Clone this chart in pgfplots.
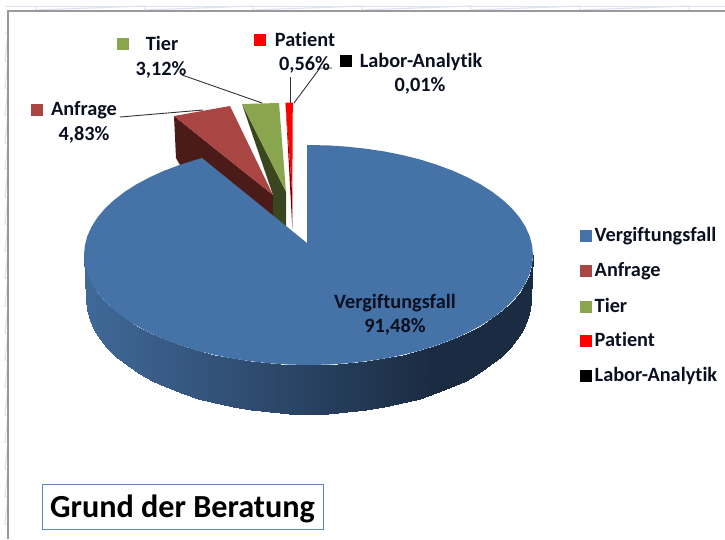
\documentclass[border=0pt]{standalone}
\usepackage{pgfplots}
\usepackage{fontspec}
\setmainfont{Carlito}[Ligatures={NoRequired,NoCommon,NoContextual}]
\pgfplotsset{compat=1.18}
\definecolor{cBlue}{HTML}{4572A7}
\definecolor{cRed}{HTML}{A94643}
\definecolor{cGreen}{HTML}{89A54E}
\definecolor{cRedD}{HTML}{4A1B18}
\definecolor{cGreenD}{HTML}{3A4620}
\definecolor{cPatD}{HTML}{7A0000}
\definecolor{cTxt}{HTML}{0A1020}
\definecolor{cFrame}{HTML}{9A9A9A}
\definecolor{cGrid}{HTML}{DDE3F0}
\definecolor{cLead}{HTML}{333333}
\tikzset{lbl/.style={font=\fontsize{20.3}{20.3}\selectfont\bfseries,text=cTxt,inner sep=0pt,anchor=base}}
\begin{document}
\begin{tikzpicture}
\begin{axis}[width=725pt,height=539pt,scale only axis,
  xmin=0,xmax=725,ymin=0,ymax=539,y dir=reverse,hide axis,clip=true,
  colormap={wall}{rgb255(0cm)=(64,105,153); rgb255(344cm)=(27,44,66); rgb255(449cm)=(27,44,66)},
  point meta min=86,point meta max=535]
% keeps the page at the full size of the axis
\addplot[draw=none] coordinates {(0,0)(725,539)};
% sheet grid and frame
\addplot[cGrid,line width=1.2pt] coordinates {(5,6.7) (725,6.7)};
\addplot[cGrid,line width=1.2pt] coordinates {(36,6)(36,10)(36,nan)(145,6)(145,10)(145,nan)(253,6)(253,10)(253,nan)(362,6)(362,10)(362,nan)(471,6)(471,10)(471,nan)(580,6)(580,10)(580,nan)(689,6)(689,10)};
\addplot[cGrid,line width=1.2pt] coordinates {(5,33)(8,33)(8,nan)(5,61)(8,61)(8,nan)(5,88)(8,88)(8,nan)(5,115)(8,115)(8,nan)(5,143)(8,143)(8,nan)(5,169)(8,169)(8,nan)(5,197)(8,197)(8,nan)(5,224)(8,224)(8,nan)(5,251)(8,251)(8,nan)(5,278)(8,278)(8,nan)(5,306)(8,306)(8,nan)(5,333)(8,333)(8,nan)(5,360)(8,360)(8,nan)(5,387)(8,387)(8,nan)(5,415)(8,415)(8,nan)(5,442)(8,442)(8,nan)(5,469)(8,469)(8,nan)(5,497)(8,497)(8,nan)(5,524)(8,524)};
\addplot[cFrame,line width=1.5pt] coordinates {(8,539) (8,11) (725,11)};
% side wall of the main slice
\addplot[surf,shader=interp,mesh/rows=2,point meta=x] coordinates {
(84,255)(84.9,264.6)(87.4,274.1)(91.7,283.5)(97.5,292.6)(105,301.5)(114.1,310)(124.6,318.1)(136.5,325.7)(149.8,332.8)(164.2,339.3)(179.7,345.1)(196.2,350.3)(213.6,354.7)(231.7,358.4)(250.4,361.2)(269.5,363.3)(288.9,364.6)(308.5,365)(328.1,364.6)(347.5,363.3)(366.6,361.2)(385.3,358.4)(403.4,354.7)(420.8,350.3)(437.3,345.1)(452.8,339.3)(467.2,332.8)(480.5,325.7)(492.4,318.1)(502.9,310)(512,301.5)(519.5,292.6)(525.3,283.5)(529.6,274.1)(532.1,264.6)(533,255)
(86.5,300)(87.3,309.9)(89.9,319.8)(94.1,329.5)(99.9,339)(107.3,348.2)(116.2,357)(126.6,365.4)(138.4,373.3)(151.5,380.6)(165.8,387.3)(181.2,393.4)(197.5,398.7)(214.7,403.3)(232.6,407.1)(251,410.1)(270,412.3)(289.2,413.6)(308.5,414)(327.8,413.6)(347,412.3)(366,410.1)(384.4,407.1)(402.3,403.3)(419.5,398.7)(435.8,393.4)(451.2,387.3)(465.5,380.6)(478.6,373.3)(490.4,365.4)(500.8,357)(509.7,348.2)(517.1,339)(522.9,329.5)(527.1,319.8)(529.7,309.9)(530.5,300)
};
% exploded slices: walls
\addplot[fill=cRedD,draw=none] coordinates {(174,116)(273,195)(273,225)(200,172)(180,165)(176,158)} --cycle;
\addplot[fill=cGreenD,draw=none] coordinates {(242,104)(286,192)(286,230)(273,220)(273,195)} --cycle;
\addplot[fill=cPatD,draw=none] coordinates {(285.5,102.5)(292.3,195)(292.3,228)} --cycle;
% exploded slices: tops
\addplot[fill=cRed,draw=none] coordinates {(174,116)(230,106)(273,195)} --cycle;
\addplot[fill=cGreen,draw=none] coordinates {(242,104)(279,103)(286,192)} --cycle;
\addplot[fill=red,draw=none] coordinates {(285.5,102.5)(292.8,102.5)(292.3,195)} --cycle;
% main slice top
\addplot[fill=cBlue,draw=none] coordinates {
(307,145)(328.1,145.4)(347.5,146.7)(366.6,148.8)(385.3,151.6)(403.4,155.3)(420.8,159.7)(437.3,164.9)(452.8,170.7)(467.2,177.2)(480.5,184.3)(492.4,191.9)(502.9,200)(512,208.5)(519.5,217.4)(525.3,226.5)(529.6,235.9)(532.1,245.4)
(533,255)(532.1,264.6)(529.6,274.1)(525.3,283.5)(519.5,292.6)(512,301.5)(502.9,310)(492.4,318.1)(480.5,325.7)(467.2,332.8)(452.8,339.3)(437.3,345.1)(420.8,350.3)(403.4,354.7)(385.3,358.4)(366.6,361.2)(347.5,363.3)(328.1,364.6)(308.5,365)(288.9,364.6)(269.5,363.3)(250.4,361.2)(231.7,358.4)(213.6,354.7)(196.2,350.3)(179.7,345.1)(164.2,339.3)(149.8,332.8)(136.5,325.7)(124.6,318.1)(114.1,310)(105,301.5)(97.5,292.6)(91.7,283.5)(87.4,274.1)(84.9,264.6)(84,255)(84.9,245.4)(87.4,235.9)(91.7,226.5)(97.5,217.4)(105,208.5)(114.1,200)(124.6,191.9)(136.5,184.3)(149.8,177.2)(164.2,170.7)(179.7,164.9)(196.2,159.7)(202,158)(307,243)} --cycle;
% leader lines
\addplot[cLead,line width=0.9pt] coordinates {(120,117)(203,110)};
\addplot[cLead,line width=0.9pt] coordinates {(182,75)(262,103)};
\addplot[cLead,line width=0.9pt] coordinates {(290,77)(290,103)};
\addplot[cLead,line width=0.9pt] coordinates {(332,68)(320,68)(294,103)};
% key squares
\addplot[only marks,color=cBlue,mark=square*,mark size=5.5pt,mark options={line width=0pt,draw=cBlue,fill=cBlue}] coordinates {(585.5,236)};
\addplot[only marks,color=cRed,mark=square*,mark size=5.5pt,mark options={line width=0pt,draw=cRed,fill=cRed}] coordinates {(36.5,109.5)(585.5,271)};
\addplot[only marks,color=cGreen,mark=square*,mark size=5.5pt,mark options={line width=0pt,draw=cGreen,fill=cGreen}] coordinates {(122.5,44)(585.5,307)};
\addplot[only marks,color=red,mark=square*,mark size=5.5pt,mark options={line width=0pt,draw=red,fill=red}] coordinates {(259.5,39.5)(585.5,341)};
\addplot[only marks,color=black,mark=square*,mark size=5.5pt,mark options={line width=0pt,draw=black,fill=black}] coordinates {(345.5,60.5)(585.5,376)};
% labels
\node[lbl] at (axis cs:162,50.7) {Tier};
\node[lbl] at (axis cs:161,75) {3,12\%};
\node[lbl] at (axis cs:305,46.7) {Patient};
\node[lbl] at (axis cs:304.5,70.7) {0,56\%};
\node[lbl] at (axis cs:421,67.7) {Labor-Analytik};
\node[lbl] at (axis cs:420,91.7) {0,01\%};
\node[lbl] at (axis cs:84,115.7) {Anfrage};
\node[lbl] at (axis cs:84,140.7) {4,83\%};
\node[lbl] at (axis cs:395,308.3) {Vergiftungsfall};
\node[lbl] at (axis cs:395,332.7) {91,48\%};
\node[lbl,anchor=base west] at (axis cs:594.5,241) {Vergiftungsfall};
\node[lbl,anchor=base west] at (axis cs:594.5,276.5) {Anfrage};
\node[lbl,anchor=base west] at (axis cs:594.5,312) {Tier};
\node[lbl,anchor=base west] at (axis cs:594.5,346.5) {Patient};
\node[lbl,anchor=base west] at (axis cs:594.5,381.5) {Labor-Analytik};
% title box
\addplot[draw=cBlue!85,line width=1pt,fill=white] coordinates {(42,484.5)(323,484.5)(323,529)(42,529)} --cycle;
\node[font=\fontsize{32.2}{32.2}\selectfont\bfseries,text=black,inner sep=0pt,anchor=base] at (axis cs:182.5,517) {Grund der Beratung};
\end{axis}
\end{tikzpicture}
\end{document}
